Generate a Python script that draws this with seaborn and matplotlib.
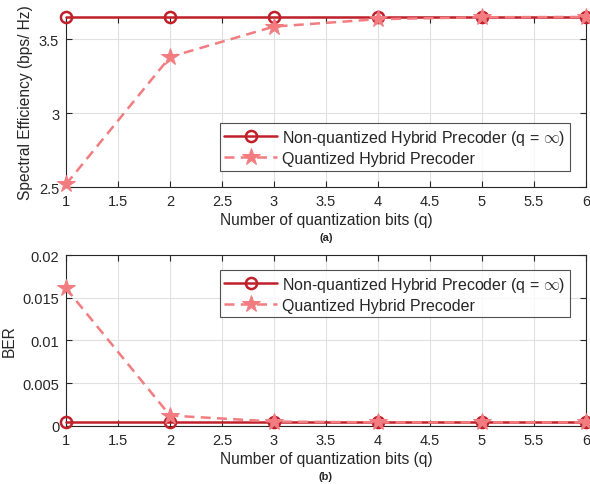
import numpy as np
import pandas as pd
import seaborn as sns
import matplotlib
matplotlib.use("Agg")
import matplotlib.pyplot as plt

bits = [1, 2, 3, 4, 5, 6]
se_nonquant = [3.65, 3.65, 3.65, 3.65, 3.65, 3.65]
se_quant = [2.52, 3.38, 3.585, 3.635, 3.648, 3.65]
ber_nonquant = [0.0004, 0.0004, 0.0004, 0.0004, 0.0004, 0.0004]
ber_quant = [0.0161, 0.0012, 0.0005, 0.0004, 0.0004, 0.0004]
xticks = [1, 1.5, 2, 2.5, 3, 3.5, 4, 4.5, 5, 5.5, 6]
lab_non = "Non-quantized Hybrid Precoder (q = $\\infty$)"
lab_q = "Quantized Hybrid Precoder"

sns.set_theme(style="whitegrid")
plt.rcParams['font.family'] = ['Liberation Sans', 'DejaVu Sans']
plt.rcParams['mathtext.fontset'] = 'cm'

dark = "#C0202A"
light = "#F27C80"

fig = plt.figure(figsize=(5.9, 4.85), dpi=100)
ax1 = fig.add_axes([0.112, 0.612, 0.881, 0.351])
ax2 = fig.add_axes([0.112, 0.120, 0.881, 0.352])

def draw(ax, ynon, yq):
    df = pd.DataFrame({"q": bits + bits,
                       "v": list(ynon) + list(yq),
                       "s": [lab_non] * len(bits) + [lab_q] * len(bits)})
    sns.lineplot(data=df[df.s == lab_non], x="q", y="v", ax=ax, color=dark,
                 lw=1.8, marker="o", markersize=8, markerfacecolor="none",
                 markeredgecolor=dark, markeredgewidth=1.8, label=lab_non,
                 clip_on=False, zorder=3)
    sns.lineplot(data=df[df.s == lab_q], x="q", y="v", ax=ax, color=light,
                 lw=1.8, dashes=False, marker="*", markersize=13,
                 markerfacecolor=light, markeredgecolor=light, label=lab_q,
                 clip_on=False, zorder=4)
    ax.lines[-1].set_linestyle((0, (4, 2.5)))
    ax.set_xlim(1, 6)
    ax.set_xticks(xticks)
    ax.set_xticklabels([f"{t:g}" for t in xticks])
    ax.grid(True, color="#E0E0E0", lw=0.8)
    for s in ax.spines.values():
        s.set_color("#262626")
        s.set_linewidth(0.8)
    ax.tick_params(direction="in", length=4, width=0.8, colors="#262626",
                   labelsize=10.5, pad=5, top=True, right=True,
                   bottom=True, left=True, labelcolor="#262626")
    ax.set_xlabel("Number of quantization bits (q)", fontsize=11.2,
                  color="#262626", labelpad=3)

leg_kw = dict(fontsize=11.5, frameon=True, fancybox=False, edgecolor="#262626",
              handlelength=3.3, borderpad=0.3, labelspacing=0.25,
              handletextpad=0.3)

draw(ax1, se_nonquant, se_quant)
ax1.set_ylim(2.5, 3.65)
ax1.set_yticks([2.5, 3, 3.5])
ax1.set_yticklabels(["2.5", "3", "3.5"])
ax1.set_ylabel("Spectral Efficiency (bps/ Hz)", fontsize=11.2, color="#262626")
ax1.legend(loc="lower right", bbox_to_anchor=(0.985, 0.05), **leg_kw
           ).get_frame().set_linewidth(0.8)
ax1.text(0.5, -0.31, "(a)", transform=ax1.transAxes, ha="center",
         fontsize=8, fontweight="bold", color="#262626")

draw(ax2, ber_nonquant, ber_quant)
ax2.set_ylim(0, 0.02)
ax2.set_yticks([0, 0.005, 0.01, 0.015, 0.02])
ax2.set_yticklabels(["0", "0.005", "0.01", "0.015", "0.02"])
ax2.set_ylabel("BER", fontsize=11.2, color="#262626")
ax2.legend(loc="upper right", bbox_to_anchor=(0.985, 0.96), **leg_kw
           ).get_frame().set_linewidth(0.8)
ax2.text(0.5, -0.31, "(b)", transform=ax2.transAxes, ha="center",
         fontsize=8, fontweight="bold", color="#262626")

fig.savefig("out.png", dpi=100)
